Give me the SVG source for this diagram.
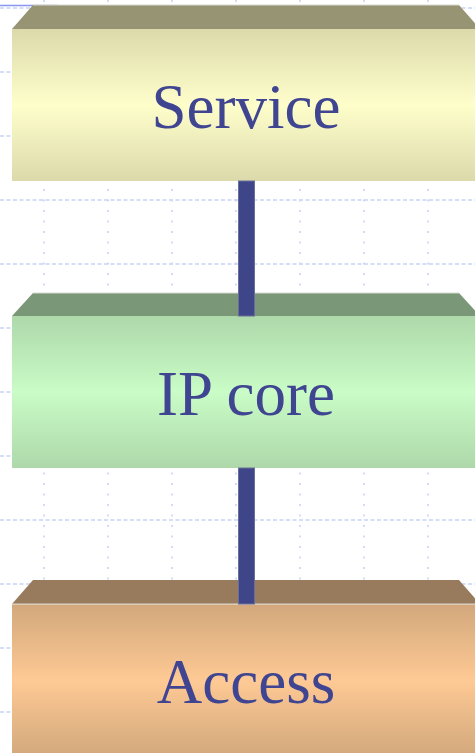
<svg xmlns="http://www.w3.org/2000/svg" width="475" height="753" viewBox="0 0 475 753">
<style>
.gh{stroke:#c8d4f6;stroke-width:1.6;stroke-dasharray:4 2.5;fill:none}
.gv{stroke:#c8d4f6;stroke-width:1.6;stroke-dasharray:2 8.5;fill:none}
.lbl{font-family:"Liberation Serif","Times New Roman",serif;font-size:63px;fill:#3f4590;text-anchor:middle}
.edge{stroke:#d8d8d0;stroke-width:1;fill:none}
.bar{fill:#3f4589;stroke:#6a6e9a;stroke-width:1}
</style>
<defs>
<linearGradient id="gS" x1="0" y1="0" x2="0" y2="1">
<stop offset="0" stop-color="#dcd9ab"/><stop offset="0.5" stop-color="#fefecb"/><stop offset="1" stop-color="#dcd9ab"/>
</linearGradient>
<linearGradient id="gI" x1="0" y1="0" x2="0" y2="1">
<stop offset="0" stop-color="#aed8aa"/><stop offset="0.5" stop-color="#c9fcc6"/><stop offset="1" stop-color="#aed8aa"/>
</linearGradient>
<linearGradient id="gA" x1="0" y1="0" x2="0" y2="1">
<stop offset="0" stop-color="#d2a87c"/><stop offset="0.5" stop-color="#fec994"/><stop offset="1" stop-color="#d2a87c"/>
</linearGradient>
</defs>
<rect x="0" y="0" width="475" height="753" fill="#ffffff"/>
<g id="grid">
<line class="gh" x1="0" y1="8" x2="475" y2="8"/>
<line class="gh" x1="0" y1="72" x2="475" y2="72"/>
<line class="gh" x1="0" y1="136" x2="475" y2="136"/>
<line class="gh" x1="0" y1="200" x2="475" y2="200"/>
<line class="gh" x1="0" y1="264" x2="475" y2="264"/>
<line class="gh" x1="0" y1="328" x2="475" y2="328"/>
<line class="gh" x1="0" y1="392" x2="475" y2="392"/>
<line class="gh" x1="0" y1="456" x2="475" y2="456"/>
<line class="gh" x1="0" y1="520" x2="475" y2="520"/>
<line class="gh" x1="0" y1="584" x2="475" y2="584"/>
<line class="gh" x1="0" y1="648" x2="475" y2="648"/>
<line class="gh" x1="0" y1="712" x2="475" y2="712"/>
<line class="gv" x1="44" y1="0" x2="44" y2="753"/>
<line class="gv" x1="108" y1="0" x2="108" y2="753"/>
<line class="gv" x1="172" y1="0" x2="172" y2="753"/>
<line class="gv" x1="236" y1="0" x2="236" y2="753"/>
<line class="gv" x1="300" y1="0" x2="300" y2="753"/>
<line class="gv" x1="364" y1="0" x2="364" y2="753"/>
<line class="gv" x1="428" y1="0" x2="428" y2="753"/>
<line x1="0" y1="5.5" x2="58" y2="5.5" stroke="#8898f0" stroke-width="1.5"/>
</g>
<g id="service">
<polygon points="12,29 33,5 459,5 480,29" fill="#979474"/>
<line class="edge" x1="33" y1="5" x2="459" y2="5"/>
<rect x="12" y="29" width="470" height="152" fill="url(#gS)"/>
<text class="lbl" x="246" y="128">Service</text>
</g>
<g id="ipcore">
<polygon points="12,316 33,293 459,293 480,316" fill="#7a9777"/>
<line class="edge" x1="33" y1="293" x2="459" y2="293"/>
<rect x="12" y="316" width="470" height="152" fill="url(#gI)"/>
<text class="lbl" x="246" y="415">IP core</text>
</g>
<g id="access">
<polygon points="12,604 33,580 459,580 480,604" fill="#987a5c"/>
<line class="edge" x1="12" y1="604" x2="480" y2="604" stroke-width="1.5"/>
<rect x="12" y="604.5" width="470" height="152" fill="url(#gA)"/>
<text class="lbl" x="246" y="703">Access</text>
</g>
<g id="connectors">
<rect class="bar" x="238.5" y="181" width="16" height="135"/>
<rect class="bar" x="238.5" y="468" width="16" height="136"/>
</g>
</svg>
